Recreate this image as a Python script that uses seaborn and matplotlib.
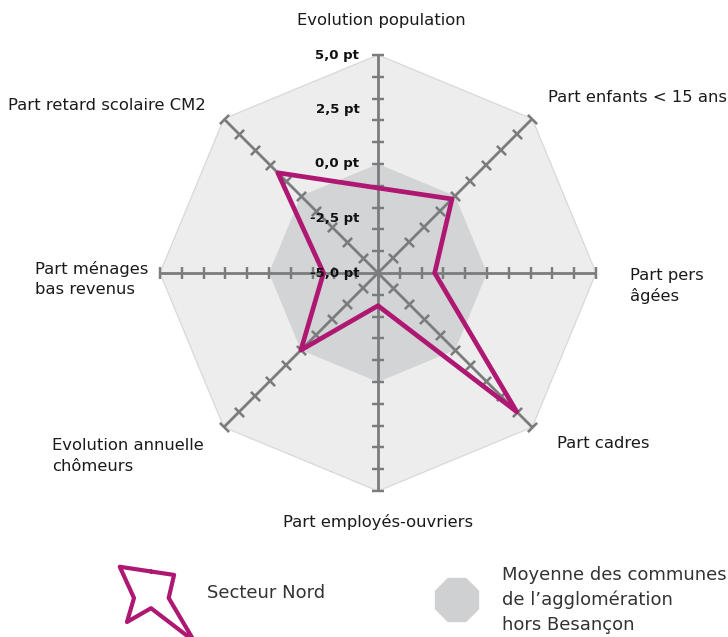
import numpy as np
import matplotlib
matplotlib.use("Agg")
import matplotlib.pyplot as plt
import seaborn as sns
from matplotlib.patches import RegularPolygon
from matplotlib.transforms import IdentityTransform

# data
categories = ["Evolution population", "Part enfants < 15 ans", "Part pers\nâgées",
              "Part cadres", "Part employés-ouvriers", "Evolution annuelle\nchômeurs",
              "Part ménages\nbas revenus", "Part retard scolaire CM2"]
secteur_nord = [-1.1, -0.2, -2.4, 4.0, -3.5, 0.0, -2.5, 1.5]
moyenne = [0.0, 0.0, 0.0, 0.0, 0.0, 0.0, 0.0, 0.0]
tick_values = [5.0, 2.5, 0.0, -2.5, -5.0]
tick_labels = ["5,0 pt", "2,5 pt", "0,0 pt", "-2,5 pt", "-5,0 pt"]
minor_ticks = [-4, -3, -2, -1, 0, 1, 2, 3, 4, 5]
r_min, r_max = -5, 5
legend_labels = ["Secteur Nord", "Moyenne des communes\nde l\u2019agglomération\nhors Besançon"]

MAGENTA = "#AF1872"
AXIS = "#7B7C7E"
OUTER = "#EDEDED"
INNER = "#D3D4D5"

sns.set_style("white")
plt.rcParams["font.family"] = ["DejaVu Sans"]

W, H = 728, 637
fig = plt.figure(figsize=(W / 100, H / 100), dpi=100)

def px_rect(cx, cy, r):
    return [(cx - r) / W, (H - cy - r) / H, 2 * r / W, 2 * r / H]

n = len(categories)
theta = np.arange(n) * 2 * np.pi / n
theta_c = np.append(theta, 2 * np.pi)

def closed(v):
    return np.append(v, v[0])

ax = fig.add_axes(px_rect(378, 273, 218), projection="polar")
ax.set_theta_zero_location("N")
ax.set_theta_direction(-1)
ax.set_ylim(r_min, r_max)
ax.axis("off")

# background octagon (full scale) and average octagon
ax.fill(theta_c, [r_max] * (n + 1), color=OUTER, zorder=1, clip_on=False)
ax.plot(theta_c, [r_max] * (n + 1), color="#D8D8D8", lw=0.8, zorder=1, clip_on=False)
ax.fill(theta_c, closed(moyenne), color=INNER, zorder=2, lw=0, clip_on=False)

# axes with tick marks
for i, t in enumerate(theta):
    ax.plot([t, t], [r_min, r_max], color=AXIS, lw=2.0, zorder=3, clip_on=False,
            solid_capstyle="butt")
    ang = 90 - np.degrees(t)
    ax.plot([t] * len(minor_ticks), minor_ticks, ls="none", marker=(2, 2, ang),
            ms=9, mew=1.6, color=AXIS, zorder=3, clip_on=False)

# Secteur Nord
sns.lineplot(x=theta_c, y=closed(secteur_nord), sort=False, estimator=None, ax=ax,
             color=MAGENTA, lw=3.4, zorder=5, clip_on=False)
ax.axis("off")

# scale labels on the vertical axis
for v, lab in zip(tick_values, tick_labels):
    ax.annotate(lab, xy=(0, v), xytext=(-13.5, 0), textcoords="offset points",
                ha="right", va="center", fontsize=9.5, fontweight="bold",
                color="#111111", zorder=6)

# category labels
label_pos = [(381, 20, "center"), (548, 97, "left"), (630, 286, "left"),
             (557, 443, "left"), (378, 522, "center"), (52, 456, "left"),
             (35, 279, "left"), (8, 105, "left")]
for lab, (x, y, ha) in zip(categories, label_pos):
    fig.text(x / W, 1 - y / H, lab, ha=ha, va="center", fontsize=11.8,
             color="#1A1A1A", linespacing=1.45)

# legend: small copy of the shape + grey octagon
lax = fig.add_axes(px_rect(151, 598, 68), projection="polar")
lax.set_theta_zero_location("N")
lax.set_theta_direction(-1)
lax.set_ylim(r_min, r_max)
sns.lineplot(x=theta_c, y=closed(secteur_nord), sort=False, estimator=None, ax=lax,
             color=MAGENTA, lw=3.0, clip_on=False)
lax.axis("off")

fig.add_artist(RegularPolygon((457, H - 600), 8, radius=24, orientation=np.pi / 8,
                              transform=IdentityTransform(), color="#CFD0D1", lw=0))

fig.text(207 / W, 1 - 593 / H, legend_labels[0], ha="left", va="center",
         fontsize=13, color="#333333")
fig.text(502 / W, 1 - 600 / H, legend_labels[1], ha="left", va="center",
         fontsize=13, color="#333333", linespacing=1.45)

fig.savefig("out.png", dpi=100)
